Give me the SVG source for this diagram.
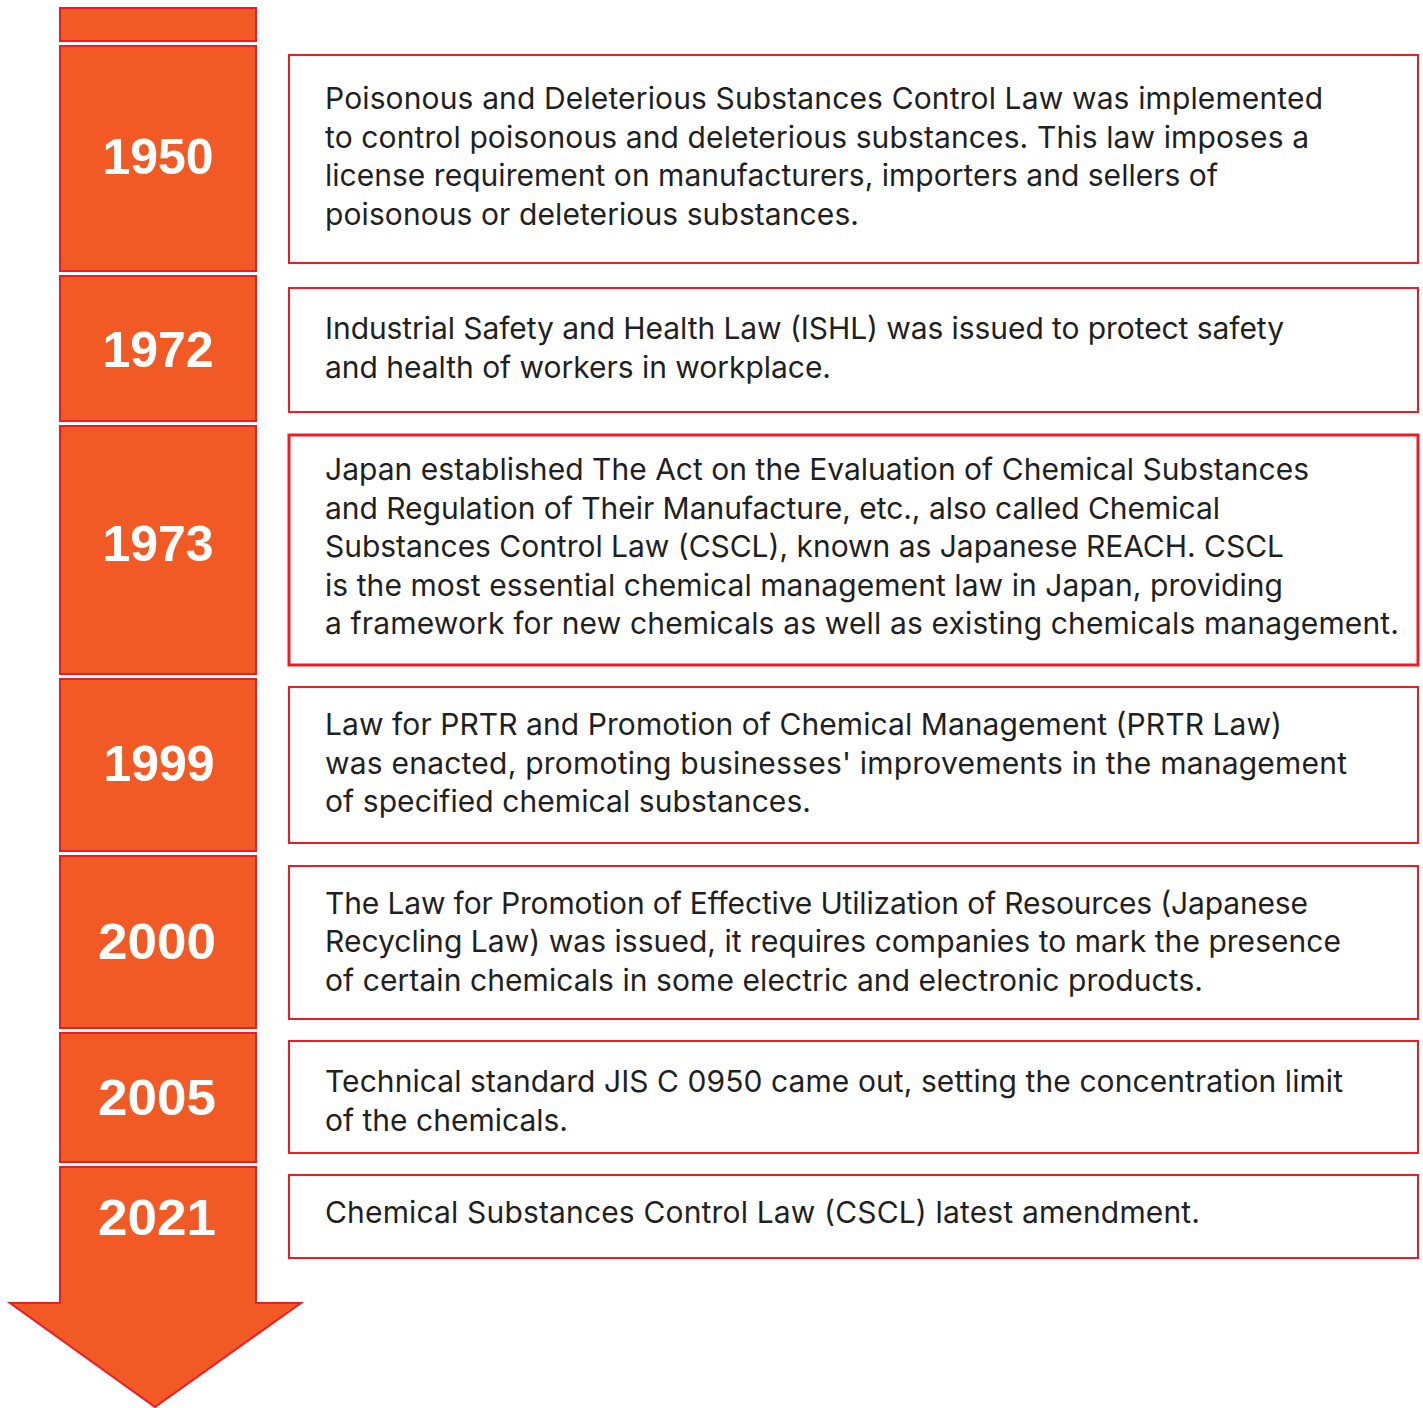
<svg xmlns="http://www.w3.org/2000/svg" width="1423" height="1408" viewBox="0 0 1423 1408">
<style>
.seg{fill:#F15A24;stroke:#ED1C24;stroke-width:2}
.box{fill:#fff;stroke:#ED1C24;stroke-width:2}
.yr{font-family:"Liberation Sans",Arial,sans-serif;font-weight:bold;font-size:50px;fill:#fff;text-anchor:middle}
.tx{font-family:Inter,"Liberation Sans",Arial,sans-serif;font-size:30px;fill:#231F20}
</style>
<rect width="1423" height="1408" fill="#fff"/>
<g id="timeline">
<rect class="seg" x="60" y="8" width="196" height="33"/>
</g>
<g id="y1950"><rect class="seg" x="60" y="46" width="196" height="225"/><text class="yr" x="158" y="174">1950</text></g>
<g id="y1972"><rect class="seg" x="60" y="276" width="196" height="145"/><text class="yr" x="158" y="367">1972</text></g>
<g id="y1973"><rect class="seg" x="60" y="426" width="196" height="248"/><text class="yr" x="158" y="561">1973</text></g>
<g id="y1999"><rect class="seg" x="60" y="679" width="196" height="172"/><text class="yr" x="159" y="781">1999</text></g>
<g id="y2000"><rect class="seg" x="60" y="856" width="196" height="172"/><text class="yr" x="157" y="959" textLength="118" lengthAdjust="spacingAndGlyphs">2000</text></g>
<g id="y2005"><rect class="seg" x="60" y="1033" width="196" height="129"/><text class="yr" x="157" y="1115" textLength="118" lengthAdjust="spacingAndGlyphs">2005</text></g>
<g id="y2021"><path class="seg" d="M60,1167 H256 V1303 H301 L155,1407 L10,1303 H60 Z"/><text class="yr" x="157" y="1235" textLength="118" lengthAdjust="spacingAndGlyphs">2021</text></g>
<g id="connectors"></g>
<g id="b1950"><rect class="box" x="289" y="55" width="1129" height="208"/>
<text class="tx" x="325" y="109" textLength="998">Poisonous and Deleterious Substances Control Law was implemented</text>
<text class="tx" x="325" y="148" textLength="984">to control poisonous and deleterious substances. This law imposes a</text>
<text class="tx" x="325" y="186" textLength="893">license requirement on manufacturers, importers and sellers of</text>
<text class="tx" x="325" y="225" textLength="534">poisonous or deleterious substances.</text></g>
<g id="b1972"><rect class="box" x="289" y="288" width="1129" height="124"/>
<text class="tx" x="325" y="339" textLength="959">Industrial Safety and Health Law (ISHL) was issued to protect safety</text>
<text class="tx" x="325" y="378" textLength="506">and health of workers in workplace.</text></g>
<g id="b1973"><rect class="box" x="289" y="435" width="1129" height="230" style="stroke-width:3"/>
<text class="tx" x="325" y="480" textLength="984">Japan established The Act on the Evaluation of Chemical Substances</text>
<text class="tx" x="325" y="519" textLength="895">and Regulation of Their Manufacture, etc., also called Chemical</text>
<text class="tx" x="325" y="557" textLength="959">Substances Control Law (CSCL), known as Japanese REACH. CSCL</text>
<text class="tx" x="325" y="596" textLength="958">is the most essential chemical management law in Japan, providing</text>
<text class="tx" x="325" y="634" textLength="1074">a framework for new chemicals as well as existing chemicals management.</text></g>
<g id="b1999"><rect class="box" x="289" y="687" width="1129" height="156"/>
<text class="tx" x="325" y="735" textLength="957">Law for PRTR and Promotion of Chemical Management (PRTR Law)</text>
<text class="tx" x="325" y="774" textLength="1022">was enacted, promoting businesses' improvements in the management</text>
<text class="tx" x="325" y="812" textLength="486">of specified chemical substances.</text></g>
<g id="b2000"><rect class="box" x="289" y="866" width="1129" height="153"/>
<text class="tx" x="325" y="914" textLength="983">The Law for Promotion of Effective Utilization of Resources (Japanese</text>
<text class="tx" x="325" y="952" textLength="1016">Recycling Law) was issued, it requires companies to mark the presence</text>
<text class="tx" x="325" y="991" textLength="878">of certain chemicals in some electric and electronic products.</text></g>
<g id="b2005"><rect class="box" x="289" y="1041" width="1129" height="112"/>
<text class="tx" x="325" y="1092" textLength="1018">Technical standard JIS C 0950 came out, setting the concentration limit</text>
<text class="tx" x="325" y="1131" textLength="243">of the chemicals.</text></g>
<g id="b2021"><rect class="box" x="289" y="1175" width="1129" height="83"/>
<text class="tx" x="325" y="1223" textLength="875">Chemical Substances Control Law (CSCL) latest amendment.</text></g>
</svg>
